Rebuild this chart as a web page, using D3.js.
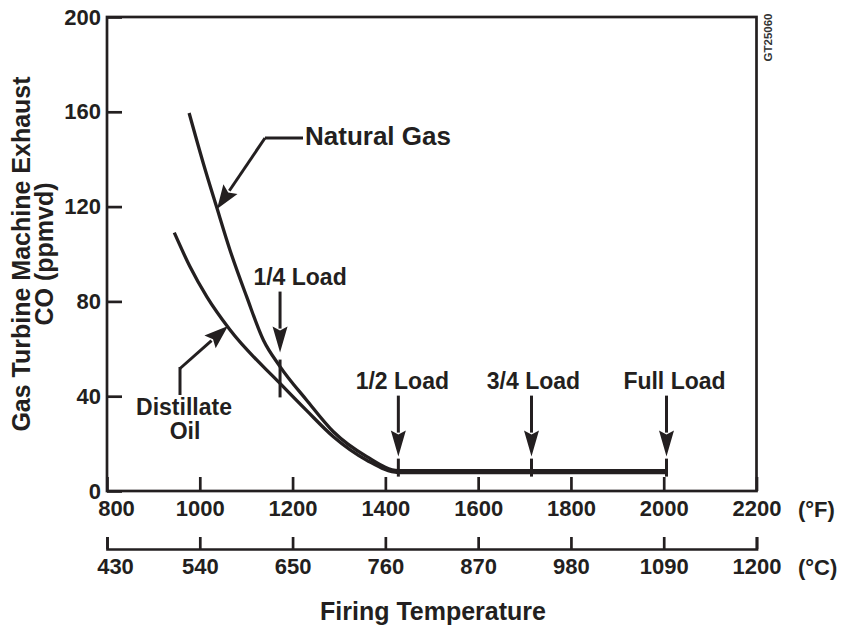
<!DOCTYPE html>
<html><head><meta charset="utf-8">
<script src="https://cdn.jsdelivr.net/npm/d3@7"></script>
<style>
html,body{margin:0;padding:0;background:#fff;}
text{font-family:"Liberation Sans",Arial,Helvetica,sans-serif;font-weight:bold;fill:#231f20;}
</style></head>
<body>
<script>
// ---- data ----
const fTicks = [800,1000,1200,1400,1600,1800,2000,2200];
const cTicks = [430,540,650,760,870,980,1090,1200];
const coTicks = [0,40,80,120,160,200];
const gasF  = [977,1008,1036,1065,1101,1137,1173,1230,1288,1360,1428,1715,2006];
const gasCO = [159.5,138,120,101.7,82,63.7,52.5,38.4,25,14.5,8.6,8.6,8.6];
const distF  = [945,979,1015,1065,1173,1230,1288,1360,1428,1715,2006];
const distCO = [109,94.6,82,68,45.4,34,22.9,13,7.8,7.8,7.8];
const loadF = [1173,1428,1715,2006];
const loadGasCO = [52.5,8.6,8.6,8.6];
const loadDistCO = [45.4,7.8,7.8,7.8];
const loadLabels = ["1/4 Load","1/2 Load","3/4 Load","Full Load"];
const seriesNames = ["Natural Gas","Distillate","Oil"];

const INK = "#231f20";
const W = 845, H = 629;
const svg = d3.select("body").append("svg").attr("width",W).attr("height",H);

const x = d3.scaleLinear().domain([800,2200]).range([107,756.5]);
const xC = d3.scaleLinear().domain([430,1200]).range([107,756.5]);
const y = d3.scaleLinear().domain([0,200]).range([491,17]);

// frame
svg.append("rect").attr("x",x(800)).attr("y",y(200)).attr("width",x(2200)-x(800)).attr("height",y(0)-y(200))
  .attr("fill","none").attr("stroke",INK).attr("stroke-width",2.7);

// x axis (F)
const gx = svg.append("g").attr("transform",`translate(0,${y(0)})`)
  .call(d3.axisBottom(x).tickValues(fTicks).tickFormat(d3.format("d")).tickSizeInner(-14).tickSizeOuter(0).tickPadding(9));
gx.select(".domain").remove();
gx.selectAll(".tick line").attr("stroke",INK).attr("stroke-width",2.7);
gx.selectAll(".tick text").attr("font-size",22).attr("font-family",null).style("fill",INK)
  .attr("dx",(d,i)=> i===0 ? 9 : 0);
svg.append("text").attr("x",798).attr("y",y(0)+26).attr("font-size",22).text("(°F)");

// celsius axis
const cy = 549;
const gc = svg.append("g").attr("transform",`translate(0,${cy})`)
  .call(d3.axisBottom(xC).tickValues(cTicks).tickFormat(d3.format("d")).tickSizeInner(-12).tickSizeOuter(-12).tickPadding(9));
gc.select(".domain").attr("stroke",INK).attr("stroke-width",2.7);
gc.selectAll(".tick line").attr("stroke",INK).attr("stroke-width",2.7);
gc.selectAll(".tick text").attr("font-size",22).attr("font-family",null).style("fill",INK)
  .attr("dx",(d,i)=> i===0 ? 8 : 0);
svg.append("text").attr("x",798).attr("y",cy+26).attr("font-size",22).text("(°C)");

// y axis
const gy = svg.append("g").attr("transform",`translate(${x(800)},0)`)
  .call(d3.axisLeft(y).tickValues(coTicks).tickFormat(d3.format("d")).tickSizeInner(-15).tickSizeOuter(0).tickPadding(6));
gy.select(".domain").remove();
gy.selectAll(".tick line").attr("stroke",INK).attr("stroke-width",2.7);
gy.selectAll(".tick text").attr("font-size",22).attr("font-family",null).style("fill",INK);

// axis titles
svg.append("text").attr("x",433).attr("y",620).attr("text-anchor","middle").attr("font-size",25).text("Firing Temperature");
const yt = svg.append("g").attr("transform","translate(0,254) rotate(-90)");
yt.append("text").attr("x",0).attr("y",30).attr("text-anchor","middle").attr("font-size",25).text("Gas Turbine Machine Exhaust");
yt.append("text").attr("x",0).attr("y",53).attr("text-anchor","middle").attr("font-size",25).text("CO (ppmvd)");

// GT code
svg.append("text").attr("transform","translate(772,37.5) rotate(-90)").attr("text-anchor","middle")
  .attr("font-size",11.5).attr("font-weight","normal").style("fill","#333").text("GT25060");

// curves
const line = d3.line().curve(d3.curveMonotoneX);
svg.append("path").attr("d",line(gasF.map((f,i)=>[x(f),y(gasCO[i])])))
  .attr("fill","none").attr("stroke",INK).attr("stroke-width",3.3);
svg.append("path").attr("d",line(distF.map((f,i)=>[x(f),y(distCO[i])])))
  .attr("fill","none").attr("stroke",INK).attr("stroke-width",3.3);

// arrow helper
function arrow(x1,y1,x2,y2,hl,hw){
  const dx=x2-x1, dy=y2-y1, L=Math.hypot(dx,dy), ux=dx/L, uy=dy/L;
  const bx=x2-ux*hl, by=y2-uy*hl;
  svg.append("line").attr("x1",x1).attr("y1",y1).attr("x2",bx+ux*2).attr("y2",by+uy*2)
    .attr("stroke",INK).attr("stroke-width",3);
  const px=-uy, py=ux;
  svg.append("path").attr("d",`M${x2},${y2}L${bx+px*hw/2},${by+py*hw/2}L${bx+ux*4},${by+uy*4}L${bx-px*hw/2},${by-py*hw/2}Z`)
    .attr("fill",INK);
}

// load markers + arrows
const labelDx = [20,4,2,8];
loadF.forEach((f,i)=>{
  const xx = x(f), yg = y(loadGasCO[i]), yd = y(loadDistCO[i]);
  const top = i===0 ? yg-7 : yg-12, bot = i===0 ? yd+14 : yg+6;
  svg.append("line").attr("x1",xx).attr("x2",xx).attr("y1",top).attr("y2",bot).attr("stroke",INK).attr("stroke-width",3);
  const tip = yg-14, st = tip-61;
  arrow(xx,st,xx,tip,26,15);
  svg.append("text").attr("x",xx+labelDx[i]).attr("y",st-7).attr("text-anchor","middle").attr("font-size",23).text(loadLabels[i]);
});

// series labels
svg.append("polyline").attr("points","303,138 265,138").attr("fill","none").attr("stroke",INK).attr("stroke-width",3);
arrow(265,138,217,209,24,17);
svg.append("text").attr("x",305).attr("y",145).attr("font-size",26).text(seriesNames[0]);

svg.append("line").attr("x1",180).attr("y1",395).attr("x2",180).attr("y2",367).attr("stroke",INK).attr("stroke-width",3);
arrow(180,368.5,228,326,24,17);
svg.append("text").attr("x",184).attr("y",415).attr("text-anchor","middle").attr("font-size",23).text(seriesNames[1]);
svg.append("text").attr("x",185).attr("y",439).attr("text-anchor","middle").attr("font-size",23).text(seriesNames[2]);
</script>
</body></html>
